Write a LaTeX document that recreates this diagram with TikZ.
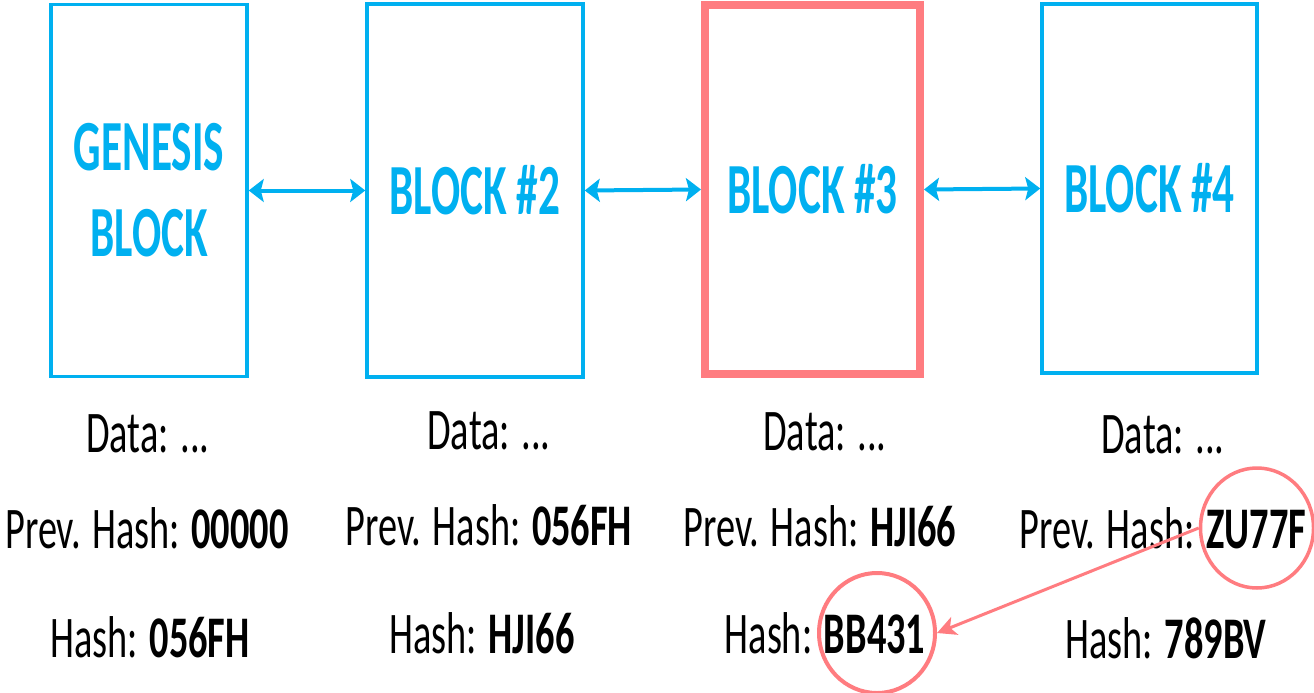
\documentclass[tikz,border=0pt]{standalone}
\usepackage{fontspec}
\setmainfont{Carlito}
\newfontfamily\titlefont[FakeStretch=0.6]{Carlito}
\newfontfamily\bodyfont[FakeStretch=0.65]{Carlito}
\usetikzlibrary{arrows.meta,shapes.geometric}
\definecolor{cblue}{HTML}{00B0F0}
\definecolor{cred}{HTML}{FF7C80}
\tikzset{
  block/.style={draw=cblue, line width=3.5pt, inner sep=0pt, align=center,
    text=cblue, font=\titlefont\bfseries\fontsize{72}{86}\selectfont},
  redblock/.style={block, draw=cred, line width=8pt},
  info/.style={anchor=base, inner sep=0pt, font=\bodyfont\fontsize{59}{70}\selectfont},
  ring/.style={ellipse, draw=cred, line width=3.5pt, inner sep=0pt,
    minimum width=113pt, minimum height=120pt},
  link/.style={draw=cblue, line width=4pt,
    {Stealth[length=15pt,width=23pt,inset=3pt]}-{Stealth[length=15pt,width=23pt,inset=3pt]}},
  redlink/.style={draw=cred, line width=3pt, -{Stealth[length=19pt,width=19pt,inset=5pt]}}
}
\begin{document}
\begin{tikzpicture}[x=1pt,y=-1pt]
\useasboundingbox[fill=white] (0,0) rectangle (1314,693);
% blocks
\node[block, minimum width=196pt, minimum height=372pt] (b1) at (149,190.5) {GENESIS\\BLOCK};
\node[block, minimum width=216pt, minimum height=373pt] (b2) at (475,190.5) {BLOCK \#2};
\node[redblock, minimum width=215pt, minimum height=369pt] (b3) at (812.5,189.5) {BLOCK \#3};
\node[block, minimum width=215pt, minimum height=369pt] (b4) at (1149.5,188.5) {BLOCK \#4};
% links
\draw[link] (b1.east) -- (b2.west);
\draw[link] (b2.east) -- (b3.west);
\draw[link] (b3.east) -- (b4.west);
% info texts
\node[info] (d1) at (148,452) {Data: ...};
\node[info] (p1) at (147,548) {Prev. Hash: {\bfseries 00000}};
\node[info] (h1) at (150,657) {Hash: {\bfseries 056FH}};
\node[info] (d2) at (489,449) {Data: ...};
\node[info] (p2) at (489,545) {Prev. Hash: {\bfseries 056FH}};
\node[info] (h2) at (482,653) {Hash: {\bfseries HJI66}};
\node[info] (d3) at (825,450) {Data: ...};
\node[info] (p3) at (820,546) {Prev. Hash: {\bfseries HJI66}};
\node[info] (h3) at (825,653) {Hash: {\bfseries BB431}};
\node[info] (d4) at (1163,453) {Data: ...};
\node[info] (p4) at (1163,548) {Prev. Hash: {\bfseries ZU77F}};
\node[info] (h4) at (1166,658) {Hash: {\bfseries 789BV}};
% rings
\node[ring] (c4) at (1257,528) {};
\node[ring, line width=4pt, minimum width=116pt] (c3) at (877,633) {};
\draw[redlink] (c4.west) -- (c3.east);
\end{tikzpicture}
\end{document}
